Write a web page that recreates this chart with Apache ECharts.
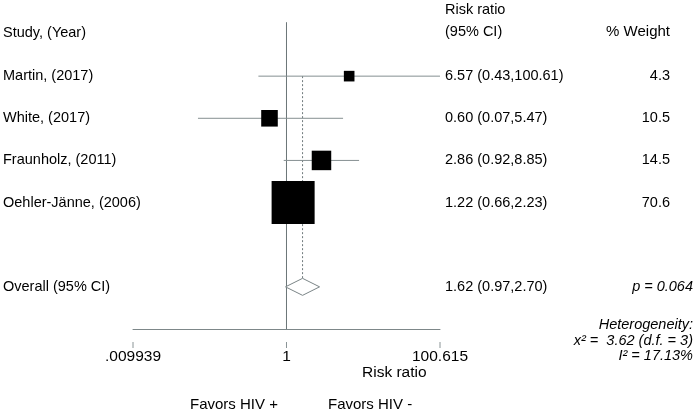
<!DOCTYPE html>
<html><head><meta charset="utf-8">
<script src="https://cdn.jsdelivr.net/npm/echarts@6/dist/echarts.min.js"></script>
<style>html,body{margin:0;padding:0;background:#fff}#c{width:696px;height:412px}</style>
</head><body><div id="c"></div>
<script>
const studies = ['Martin, (2017)', 'White, (2017)', 'Fraunholz, (2011)', 'Oehler-Jänne, (2006)'];
const rr = [6.57, 0.60, 2.86, 1.22];
const lower = [0.43, 0.07, 0.92, 0.66];
const upper = [100.61, 5.47, 8.85, 2.23];
const weights = [4.3, 10.5, 14.5, 70.6];
const overallLabel = 'Overall (95% CI)';
const overall = { rr: 1.62, lower: 0.97, upper: 2.70 };
const pValue = 'p = 0.064';
const heterogeneity = ['Heterogeneity:', 'x\u00b2 =  3.62 (d.f. = 3)', 'I\u00b2 = 17.13%'];
const tickValues = [0.009939, 1, 100.615];
const tickLabels = ['.009939', '1', '100.615'];
const xMin = 0.009939, xMax = 100.615;

const FONT = '"Liberation Sans", Arial, Helvetica, sans-serif';
const F = '14.5px ' + FONT;
const FI = 'italic 14.5px ' + FONT;
const TXT = '#000';
const CI_COL = '#858f91';
const NULL_COL = '#6c7678';
const fmt = (a, b, c) => `${a.toFixed(2)} (${b.toFixed(2)},${c.toFixed(2)})`;
const txt = (x, y, text, font, align) => ({ type: 'text', x: x, y: y, silent: true,
  style: { text: text, font: font, fill: TXT, textAlign: align || 'left', textVerticalAlign: 'middle' } });

const studyData = studies.map((s, i) => [rr[i], i + 1, lower[i], upper[i], weights[i], i]);

const chart = echarts.init(document.getElementById('c'), null, { renderer: 'canvas' });
chart.setOption({
  animation: false,
  grid: { left: 133, right: 256, top: 34, bottom: 83 },
  xAxis: {
    type: 'log', logBase: 10, min: xMin, max: xMax, position: 'bottom',
    axisLine: { show: true, onZero: false, lineStyle: { color: '#7d8789', width: 1 } },
    axisTick: { show: false }, axisLabel: { show: false }, splitLine: { show: false }
  },
  yAxis: { type: 'value', min: 0, max: 7, inverse: true, show: false },
  graphic: [
    txt(3, 33, 'Study, (Year)', F),
    txt(445, 10, 'Risk ratio', F),
    txt(445, 32, '(95% CI)', F),
    txt(670, 32, '% Weight', '15px ' + FONT, 'right'),
    txt(362, 373, 'Risk ratio', '15.5px ' + FONT),
    txt(190, 405, 'Favors HIV +', '15px ' + FONT),
    txt(328, 405, 'Favors HIV -', '15px ' + FONT)
  ],
  series: [
    { // null line & overall dashed line
      type: 'custom', silent: true, clip: false,
      data: [[1, 0]],
      renderItem: (params, api) => {
        const top = api.coord([1, -0.28]);
        const bot = api.coord([1, 7]);
        const d1 = api.coord([overall.rr, 1]);
        const d2 = api.coord([overall.rr, 6]);
        return { type: 'group', children: [
          { type: 'line', shape: { x1: top[0], y1: top[1], x2: bot[0], y2: bot[1] }, style: { stroke: NULL_COL, lineWidth: 1 } },
          { type: 'line', shape: { x1: d1[0], y1: d1[1], x2: d2[0], y2: d2[1] }, style: { stroke: '#6f797b', lineWidth: 1, lineDash: [2, 2] } }
        ] };
      }
    },
    { // studies
      type: 'custom', silent: true, clip: true,
      data: studyData,
      renderItem: (params, api) => {
        const y = api.value(1);
        const c = api.coord([api.value(0), y]);
        const l = api.coord([api.value(2), y]);
        const r = api.coord([api.value(3), y]);
        const s = 5.12 * Math.sqrt(api.value(4));
        return { type: 'group', children: [
          { type: 'line', shape: { x1: l[0], y1: l[1], x2: r[0], y2: r[1] }, style: { stroke: CI_COL, lineWidth: 1 } },
          { type: 'rect', shape: { x: c[0] - s / 2, y: c[1] - s / 2, width: s, height: s }, style: { fill: '#000' } }
        ] };
      }
    },
    { // study texts
      type: 'custom', silent: true, clip: false,
      data: studyData,
      renderItem: (params, api) => {
        const i = api.value(5);
        const y = api.coord([1, api.value(1)])[1];
        return { type: 'group', children: [
          { type: 'text', x: 3, y: y, style: { text: studies[i], font: F, fill: TXT, textVerticalAlign: 'middle' } },
          { type: 'text', x: 445, y: y, style: { text: fmt(rr[i], lower[i], upper[i]), font: F, fill: TXT, textVerticalAlign: 'middle' } },
          { type: 'text', x: 670, y: y, style: { text: weights[i].toFixed(1), font: F, fill: TXT, textAlign: 'right', textVerticalAlign: 'middle' } }
        ] };
      }
    },
    { // overall diamond + texts
      type: 'custom', silent: true, clip: false,
      data: [[overall.rr, 6, overall.lower, overall.upper]],
      renderItem: (params, api) => {
        const y = api.value(1);
        const c = api.coord([api.value(0), y]);
        const l = api.coord([api.value(2), y]);
        const r = api.coord([api.value(3), y]);
        const h = 8.5;
        const hy = api.coord([1, 7])[1];
        return { type: 'group', children: [
          { type: 'polygon', shape: { points: [[l[0], c[1]], [c[0], c[1] - h], [r[0], c[1]], [c[0], c[1] + h]] }, style: { fill: '#fff', stroke: '#7a8486', lineWidth: 1 } },
          { type: 'text', x: 3, y: c[1], style: { text: overallLabel, font: F, fill: TXT, textVerticalAlign: 'middle' } },
          { type: 'text', x: 445, y: c[1], style: { text: fmt(overall.rr, overall.lower, overall.upper), font: F, fill: TXT, textVerticalAlign: 'middle' } },
          { type: 'text', x: 693, y: c[1], style: { text: pValue, font: FI, fill: TXT, textAlign: 'right', textVerticalAlign: 'middle' } },
          { type: 'text', x: 693, y: hy - 4, style: { text: heterogeneity[0], font: FI, fill: TXT, textAlign: 'right', textVerticalAlign: 'middle' } },
          { type: 'text', x: 693, y: hy + 12, style: { text: heterogeneity[1], font: FI, fill: TXT, textAlign: 'right', textVerticalAlign: 'middle' } },
          { type: 'text', x: 693, y: hy + 27, style: { text: heterogeneity[2], font: FI, fill: TXT, textAlign: 'right', textVerticalAlign: 'middle' } }
        ] };
      }
    },
    { // ticks and tick labels
      type: 'custom', silent: true, clip: false,
      data: tickValues.map((v, i) => [v, 7, i]),
      renderItem: (params, api) => {
        const p = api.coord([api.value(0), api.value(1)]);
        const i = api.value(2);
        return { type: 'group', children: [
          { type: 'line', shape: { x1: p[0], y1: p[1] + 13, x2: p[0], y2: p[1] + 19 }, style: { stroke: '#8a9496', lineWidth: 1 } },
          { type: 'text', x: p[0], y: p[1] + 28, style: { text: tickLabels[i], font: '15.5px ' + FONT, fill: TXT, textAlign: 'center', textVerticalAlign: 'middle' } }
        ] };
      }
    }
  ]
});
</script></body></html>
